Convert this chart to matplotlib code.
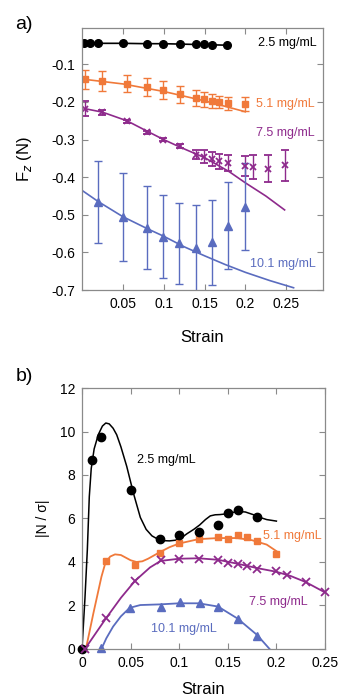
import matplotlib
matplotlib.use("Agg")
import matplotlib.pyplot as plt

plt.rcParams['font.family'] = ['Liberation Sans', 'DejaVu Sans']

BLACK = 'black'
ORANGE = '#F0793A'
PURPLE = '#8E2A8C'
BLUE = '#5A6CBF'
FRAME = '#8a8a8a'

# ---------------- panel a: Fz vs strain ----------------
a_labels = ['2.5 mg/mL', '5.1 mg/mL', '7.5 mg/mL', '10.1 mg/mL']

a25_x = [0.0024, 0.010, 0.020, 0.050, 0.079, 0.099, 0.120, 0.139, 0.149, 0.159, 0.178]
a25_y = [-0.044, -0.044, -0.044, -0.044, -0.045, -0.045, -0.046, -0.047, -0.047, -0.048, -0.049]

a51_x = [0.004, 0.024, 0.055, 0.079, 0.099, 0.120, 0.139, 0.149, 0.159, 0.168, 0.179, 0.199]
a51_y = [-0.140, -0.144, -0.151, -0.160, -0.169, -0.180, -0.189, -0.193, -0.198, -0.200, -0.204, -0.205]
a51_err = [0.025, 0.027, 0.022, 0.024, 0.024, 0.023, 0.022, 0.020, 0.019, 0.017, 0.018, 0.019]
a51_fit_x = [0.004, 0.05, 0.10, 0.15, 0.20]
a51_fit_y = [-0.140, -0.152, -0.172, -0.197, -0.226]

a75_x = [0.004, 0.024, 0.055, 0.079, 0.099, 0.120, 0.139, 0.149, 0.159, 0.168, 0.179,
         0.199, 0.209, 0.228, 0.248]
a75_y = [-0.218, -0.227, -0.251, -0.280, -0.300, -0.318, -0.340, -0.345, -0.352, -0.358, -0.362,
         -0.371, -0.373, -0.378, -0.368]
a75_err = [0.020, 0.007, 0.004, 0.004, 0.004, 0.005, 0.012, 0.016, 0.018, 0.020, 0.022,
           0.027, 0.032, 0.036, 0.041]
a75_fit_x = [0.004, 0.025, 0.055, 0.080, 0.100, 0.120, 0.150, 0.180, 0.200, 0.225, 0.248]
a75_fit_y = [-0.218, -0.227, -0.250, -0.278, -0.300, -0.320, -0.348, -0.385, -0.415, -0.450, -0.487]

a101_x = [0.019, 0.050, 0.079, 0.099, 0.119, 0.139, 0.159, 0.179, 0.199]
a101_y = [-0.466, -0.506, -0.534, -0.558, -0.576, -0.588, -0.573, -0.529, -0.478]
a101_err = [0.110, 0.117, 0.110, 0.110, 0.108, 0.115, 0.113, 0.115, 0.116]
a101_fit_x = [0.0, 0.02, 0.05, 0.08, 0.10, 0.125, 0.15, 0.175, 0.20, 0.23, 0.259]
a101_fit_y = [-0.435, -0.465, -0.505, -0.537, -0.557, -0.585, -0.609, -0.632, -0.653, -0.675, -0.694]

a_xticks = [0.05, 0.10, 0.15, 0.20, 0.25]
a_xticklabels = ['0.05', '0.1', '0.15', '0.2', '0.25']
a_yticks = [-0.1, -0.2, -0.3, -0.4, -0.5, -0.6, -0.7]
a_yticklabels = ['-0.1', '-0.2', '-0.3', '-0.4', '-0.5', '-0.6', '-0.7']

# ---------------- panel b: |N / sigma| vs strain ----------------
b25_x = [0.0, 0.0099, 0.020, 0.050, 0.080, 0.100, 0.120, 0.140, 0.1505, 0.160, 0.180]
b25_y = [0.0, 8.71, 9.73, 7.30, 5.06, 5.25, 5.38, 5.71, 6.26, 6.38, 6.07]
b25_fit_x = [0.0, 0.003, 0.0055, 0.0075, 0.0095, 0.0125, 0.0168, 0.021, 0.0245, 0.028,
             0.032, 0.0357, 0.040, 0.046, 0.053, 0.060, 0.066, 0.072, 0.078, 0.084,
             0.090, 0.096, 0.102, 0.108, 0.115, 0.121, 0.127, 0.132, 0.137, 0.142,
             0.150, 0.159, 0.168, 0.176, 0.183, 0.190, 0.200]
b25_fit_y = [0.0, 2.3, 4.57, 7.00, 8.30, 9.20, 9.86, 10.25, 10.39, 10.35,
             10.15, 9.85, 9.30, 8.40, 7.15, 6.05, 5.50, 5.20, 5.05, 4.98,
             4.97, 5.00, 5.10, 5.30, 5.50, 5.70, 5.95, 6.12, 6.17, 6.18,
             6.22, 6.32, 6.30, 6.18, 6.05, 5.95, 5.88]

b51_x = [0.0247, 0.0545, 0.080, 0.100, 0.120, 0.140, 0.1505, 0.160, 0.170, 0.180, 0.200]
b51_y = [4.05, 3.85, 4.41, 4.87, 5.06, 5.17, 5.06, 5.22, 5.15, 4.96, 4.38]
b51_fit_x = [0.004, 0.0117, 0.020, 0.024, 0.029, 0.034, 0.040, 0.045, 0.050, 0.056,
             0.062, 0.068, 0.080, 0.090, 0.100, 0.120, 0.140, 0.160, 0.175, 0.190, 0.200]
b51_fit_y = [0.0, 1.64, 3.32, 3.95, 4.25, 4.35, 4.32, 4.20, 4.08, 4.00,
             4.03, 4.15, 4.45, 4.68, 4.85, 5.05, 5.10, 5.10, 5.00, 4.80, 4.50]

b75_x = [0.003, 0.0247, 0.0545, 0.081, 0.100, 0.120, 0.140, 0.1505, 0.160, 0.170, 0.180,
         0.200, 0.2106, 0.2305, 0.250]
b75_y = [0.0, 1.41, 3.13, 4.08, 4.15, 4.15, 4.11, 3.95, 3.89, 3.83, 3.70,
         3.57, 3.38, 3.06, 2.60]
b75_fit_x = [0.003, 0.0247, 0.040, 0.0545, 0.070, 0.081, 0.100, 0.120, 0.140, 0.160,
             0.180, 0.200, 0.215, 0.230, 0.250]
b75_fit_y = [0.0, 1.41, 2.35, 3.13, 3.75, 4.05, 4.15, 4.17, 4.10, 3.92,
             3.72, 3.55, 3.35, 3.08, 2.60]

b101_x = [0.020, 0.049, 0.081, 0.101, 0.121, 0.140, 0.160, 0.180]
b101_y = [0.05, 1.90, 1.95, 2.14, 2.13, 1.95, 1.38, 0.61]
b101_fit_x = [0.020, 0.025, 0.032, 0.040, 0.049, 0.060, 0.080, 0.100, 0.120, 0.140,
              0.160, 0.180, 0.193]
b101_fit_y = [0.0, 0.49, 1.03, 1.50, 1.89, 2.02, 2.05, 2.10, 2.10, 1.95,
              1.40, 0.65, 0.0]

b_xticks = [0, 0.05, 0.10, 0.15, 0.20, 0.25]
b_xticklabels = ['0', '0.05', '0.1', '0.15', '0.2', '0.25']
b_yticks = [0, 2, 4, 6, 8, 10, 12]


def style_axes(ax):
    for s in ax.spines.values():
        s.set_color(FRAME)
        s.set_linewidth(0.9)
    ax.tick_params(direction='in', top=True, right=True, length=4, width=0.8,
                   color=FRAME, labelsize=10, pad=5)


fig = plt.figure(figsize=(3.38, 7.0), dpi=100)

# panel a
ax1 = fig.add_axes([0.2426, 0.5857, 0.7130, 0.3739])
ax1.plot(a25_x, a25_y, '-o', color=BLACK, ms=5.5, lw=1.2)
ax1.plot(a51_fit_x, a51_fit_y, '-', color=ORANGE, lw=1.2)
ax1.errorbar(a51_x, a51_y, yerr=a51_err, fmt='s', color=ORANGE, ms=4.5,
             capsize=3, elinewidth=1.0, capthick=1.0)
ax1.plot(a75_fit_x, a75_fit_y, '-', color=PURPLE, lw=1.2)
ax1.errorbar(a75_x, a75_y, yerr=a75_err, fmt='x', color=PURPLE, ms=5, mew=1.3,
             capsize=3, elinewidth=1.0, capthick=1.0)
ax1.plot(a101_fit_x, a101_fit_y, '-', color=BLUE, lw=1.2)
ax1.errorbar(a101_x, a101_y, yerr=a101_err, fmt='^', color=BLUE, ms=6,
             capsize=3, elinewidth=1.0, capthick=1.0)

ax1.text(0.216, -0.044, a_labels[0], color=BLACK, fontsize=9, va='center')
ax1.text(0.213, -0.205, a_labels[1], color=ORANGE, fontsize=9, va='center')
ax1.text(0.213, -0.282, a_labels[2], color=PURPLE, fontsize=9, va='center')
ax1.text(0.206, -0.632, a_labels[3], color=BLUE, fontsize=9, va='center')

ax1.set_xlim(0, 0.295)
ax1.set_ylim(-0.7, -0.004)
ax1.set_xticks(a_xticks)
ax1.set_xticklabels(a_xticklabels)
ax1.set_yticks(a_yticks)
ax1.set_yticklabels(a_yticklabels)
ax1.set_xlabel('Strain', fontsize=12, labelpad=14)
ax1.set_ylabel(r'F$_z$ (N)', fontsize=12, labelpad=12)
style_axes(ax1)
fig.text(0.045, 0.965, 'a)', fontsize=14, va='center')

# panel b
ax2 = fig.add_axes([0.2426, 0.0729, 0.7189, 0.3728])
ax2.plot(b25_fit_x, b25_fit_y, '-', color=BLACK, lw=1.1)
ax2.plot(b25_x, b25_y, 'o', color=BLACK, ms=6, clip_on=False, zorder=5)
ax2.plot(b51_fit_x, b51_fit_y, '-', color=ORANGE, lw=1.3)
ax2.plot(b51_x, b51_y, 's', color=ORANGE, ms=4.5)
ax2.plot(b75_fit_x, b75_fit_y, '-', color=PURPLE, lw=1.3)
ax2.plot(b75_x, b75_y, 'x', color=PURPLE, ms=5.5, mew=1.3, clip_on=False, zorder=6)
ax2.plot(b101_fit_x, b101_fit_y, '-', color=BLUE, lw=1.3)
ax2.plot(b101_x, b101_y, '^', color=BLUE, ms=6, clip_on=False)

ax2.text(0.057, 8.7, a_labels[0], color=BLACK, fontsize=9, va='center')
ax2.text(0.186, 5.19, a_labels[1], color=ORANGE, fontsize=9, va='center')
ax2.text(0.172, 2.17, a_labels[2], color=PURPLE, fontsize=9, va='center')
ax2.text(0.071, 0.91, a_labels[3], color=BLUE, fontsize=9, va='center')

ax2.set_xlim(0, 0.25)
ax2.set_ylim(0, 12)
ax2.set_xticks(b_xticks)
ax2.set_xticklabels(b_xticklabels)
ax2.set_yticks(b_yticks)
ax2.set_xlabel('Strain', fontsize=12, labelpad=9)
ax2.set_ylabel('|N / σ|', fontsize=10, labelpad=7)
style_axes(ax2)
fig.text(0.045, 0.462, 'b)', fontsize=14, va='center')

fig.savefig('out.png', dpi=100)
